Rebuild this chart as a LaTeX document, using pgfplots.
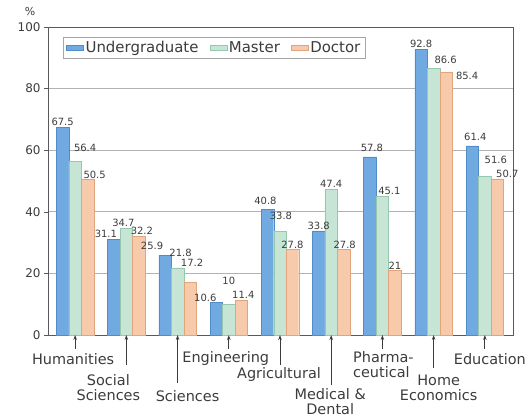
\documentclass[border=0pt]{standalone}
\usepackage{fontspec}
\setmainfont{DejaVu Sans}
\usepackage{pgfplots}
\usepackage{pgfplotstable}
\pgfplotsset{compat=1.18}
\usetikzlibrary{arrows.meta}

\definecolor{ugblue}{RGB}{112,170,224}
\definecolor{ugblueE}{RGB}{80,140,200}
\definecolor{msgreen}{RGB}{198,229,213}
\definecolor{msgreenE}{RGB}{150,200,175}
\definecolor{drorange}{RGB}{246,202,170}
\definecolor{drorangeE}{RGB}{225,165,125}
\definecolor{txt}{RGB}{60,60,60}

% x = field, y = percent, dx/dy = label nudge (bp)
\pgfplotstableread{
x y dx dy
0 67.5 0 0
1 31.1 -8 0
2 25.9 -13 4
3 10.6 -11 0
4 40.8 -2 3
5 33.8 0 0
6 57.8 2 4
7 92.8 0 0
8 61.4 3 4
}\undergrad
\pgfplotstableread{
x y dx dy
0 56.4 10 8
1 34.7 -3 0
2 21.8 3 10
3 10 0 18
4 33.8 1 10
5 47.4 0 0
6 45.1 7 0
7 86.6 12 3
8 51.6 11 11
}\master
\pgfplotstableread{
x y dx dy
0 50.5 7 0
1 32.2 3 0
2 17.2 2 14
3 11.4 2 0
4 27.8 0 0
5 27.8 1 0
6 21 0 0
7 85.4 21 -9
8 50.7 10 0
}\doctor

\begin{document}
\begin{tikzpicture}
\begin{axis}[
  scale only axis, width=465bp, height=308bp,
  ybar=0pt, bar width=12.5bp,
  ymin=0, ymax=100, ytick={0,20,...,100},
  xmin=-0.53, xmax=8.55, xtick=\empty,
  ymajorgrids, grid style={gray!60, line width=0.9pt},
  axis line style={gray!70!black, line width=0.8pt},
  tick align=outside, ytick pos=left, major tick length=4bp,
  tick style={gray!70!black},
  yticklabel style={font=\fontsize{12}{14}\selectfont, text=txt},
  /pgf/number format/assume math mode=true,
  nodes near coords,
  visualization depends on={\thisrow{dx} \as \ldx},
  visualization depends on={\thisrow{dy} \as \ldy},
  every node near coord/.append style={font=\fontsize{10}{12}\selectfont, text=txt,
    inner sep=1pt, xshift=\ldx bp, yshift=\ldy bp},
  clip=false,
  legend columns=3,
  legend style={at={(0,1)}, anchor=north west, xshift=15bp, yshift=-10bp,
    draw=gray!70, font=\fontsize{15}{17}\selectfont, text=txt,
    /tikz/every even column/.append style={column sep=9bp}},
  area legend,
]
\addplot[fill=ugblue, draw=ugblueE] table[x=x, y=y] {\undergrad};
\addplot[fill=msgreen, draw=msgreenE] table[x=x, y=y] {\master};
\addplot[fill=drorange, draw=drorangeE] table[x=x, y=y] {\doctor};
\legend{Undergraduate, Master, Doctor}

\tikzset{lbl/.style={font=\fontsize{14.5}{15}\selectfont, text=txt, align=center, inner sep=0pt},
  arr/.style={draw=txt, line width=0.7pt, -{Stealth[length=5bp,width=3.5bp]}}}
\draw[arr] ([yshift=-14bp]axis cs:0,0) -- (axis cs:0,0);
\node[lbl, xshift=-2bp, yshift=-24bp] at (axis cs:0,0) {Humanities};
\draw[arr] ([yshift=-30bp]axis cs:1,0) -- (axis cs:1,0);
\node[lbl, xshift=-18bp, yshift=-53bp] at (axis cs:1,0) {Social\\Sciences};
\draw[arr] ([yshift=-48bp]axis cs:2,0) -- (axis cs:2,0);
\node[lbl, xshift=10bp, yshift=-61bp] at (axis cs:2,0) {Sciences};
\draw[arr] ([yshift=-14bp]axis cs:3,0) -- (axis cs:3,0);
\node[lbl, xshift=-3bp, yshift=-24bp] at (axis cs:3,0) {Engineering};
\draw[arr] ([yshift=-30bp]axis cs:4,0) -- (axis cs:4,0);
\node[lbl, xshift=-1bp, yshift=-40bp] at (axis cs:4,0) {Agricultural};
\draw[arr] ([yshift=-50bp]axis cs:5,0) -- (axis cs:5,0);
\node[lbl, xshift=-1bp, yshift=-67bp] at (axis cs:5,0) {Medical \&\\Dental};
\draw[arr] ([yshift=-14bp]axis cs:6,0) -- (axis cs:6,0);
\node[lbl, align=left, xshift=1bp, yshift=-30bp] at (axis cs:6,0) {Pharma-\\ceutical};
\draw[arr] ([yshift=-33bp]axis cs:7,0) -- (axis cs:7,0);
\node[lbl, xshift=5bp, yshift=-53bp] at (axis cs:7,0) {Home\\Economics};
\draw[arr] ([yshift=-14bp]axis cs:8,0) -- (axis cs:8,0);
\node[lbl, xshift=5bp, yshift=-24bp] at (axis cs:8,0) {Education};

\node[font=\fontsize{11}{12}\selectfont, text=txt, xshift=-18bp, yshift=15bp] at (rel axis cs:0,1) {\%};
\end{axis}
\pgfresetboundingbox
\path (current axis.south west) ++(-48bp,-82bp) rectangle ++(526bp,417bp);
\end{tikzpicture}
\end{document}
